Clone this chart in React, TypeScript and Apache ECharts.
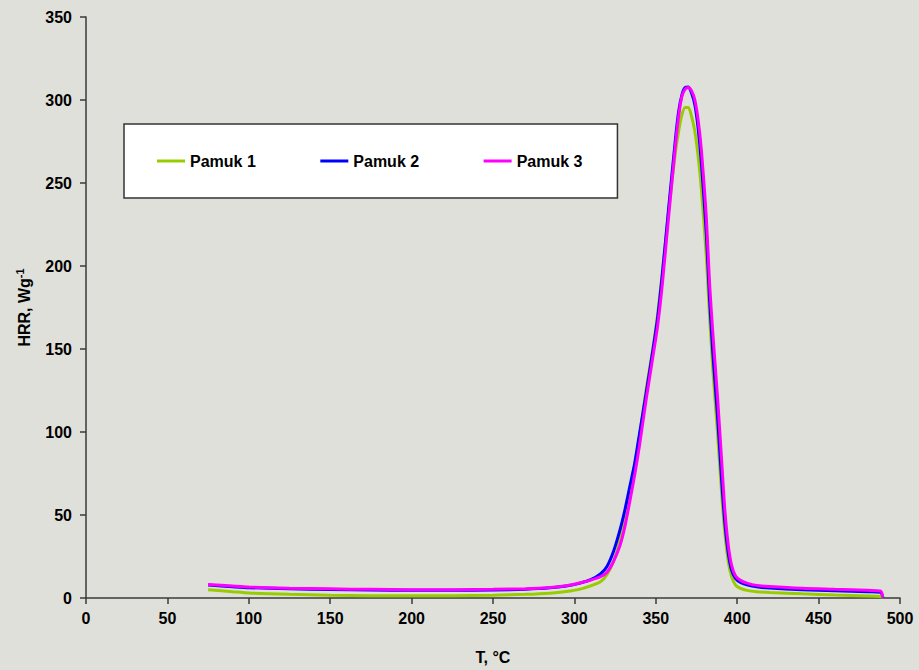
import React, { useEffect, useRef } from 'react';
import * as echarts from 'echarts';

const T = [75, 90, 100, 125, 150, 175, 200, 225, 250, 270, 285, 295, 303, 310, 316, 320, 324, 328, 331, 334, 337, 340, 344, 348, 351, 354, 358, 362, 364, 366, 368, 370, 372, 374, 376, 378, 381, 383, 385, 388, 390.5, 392.5, 394.5, 396.5, 399, 402, 406, 412, 420, 440, 460, 480, 488, 489.5];

const pamuk1 = [5.0, 3.8, 3.0, 2.2, 1.7, 1.4, 1.3, 1.4, 1.7, 2.2, 2.9, 3.9, 5.2, 7.3, 9.8, 14, 22, 35, 49, 64, 80, 98, 125, 149, 170, 196, 234, 268, 281, 291, 295.5, 295.5, 290, 281, 266, 246, 206, 170, 138, 98, 62, 38, 22, 13, 7.8, 5.8, 4.6, 3.8, 3.3, 2.5, 1.8, 1.2, 0.9, 0.5];

const pamuk2 = [7.8, 6.8, 6.2, 5.5, 5.1, 4.8, 4.6, 4.6, 4.8, 5.3, 6.1, 7.2, 8.8, 11, 14.5, 19, 28, 41, 53, 67, 81, 99, 123, 148, 168, 195, 236, 276, 293, 303, 307.5, 307.8, 304, 297, 283, 262, 220, 180, 148, 108, 70, 44, 27, 17, 11.6, 9.4, 8.0, 6.7, 6.0, 5.0, 4.4, 3.8, 3.5, 0.3];

const pamuk3 = [8.2, 7.2, 6.6, 5.9, 5.5, 5.2, 5.0, 5.0, 5.2, 5.6, 6.3, 7.4, 9.0, 10.8, 12.8, 15.5, 22, 31.6, 43, 58, 74, 92, 119, 144, 163, 189, 231, 272, 290, 302, 306.5, 307.6, 305.5, 300, 288, 270, 230, 190, 160, 120, 82, 52, 32, 20, 13.2, 10.6, 9.0, 7.6, 6.9, 5.8, 5.2, 4.6, 4.2, 0.3];

const seriesNames = ['Pamuk 1', 'Pamuk 2', 'Pamuk 3'];
const seriesColors = ['#99cc00', '#0000ff', '#ff00ff'];
const seriesValues = [pamuk1, pamuk2, pamuk3];

const FONT = '"Liberation Sans", Arial, sans-serif';
const AXIS_COLOR = '#3a3a3a';

export default function App() {
  const ref = useRef<HTMLDivElement>(null);
  useEffect(() => {
    const chart = echarts.init(ref.current!, null, { renderer: 'svg' });
    chart.setOption({
      animation: false,
      backgroundColor: '#e0e0da',
      textStyle: { fontFamily: FONT },
      grid: { left: 86, right: 19, top: 17, bottom: 71, containLabel: false },
      legend: {
        data: seriesNames,
        left: 124,
        top: 124,
        orient: 'horizontal',
        padding: [29, 35, 29, 33],
        itemGap: 64.5,
        itemWidth: 28,
        itemHeight: 3,
        icon: 'rect',
        backgroundColor: '#ffffff',
        borderColor: '#333333',
        borderWidth: 1.5,
        borderRadius: 0,
        textStyle: { fontSize: 16, fontWeight: 'bold', color: '#000', fontFamily: FONT },
      },
      xAxis: {
        type: 'value',
        min: 0,
        max: 500,
        interval: 50,
        name: 'T, °C',
        nameLocation: 'middle',
        nameGap: 51,
        nameTextStyle: { fontSize: 16, fontWeight: 'bold', color: '#000', fontFamily: FONT },
        axisLine: { show: true, lineStyle: { color: AXIS_COLOR, width: 1.5 } },
        axisTick: { show: true, inside: false, length: 6, lineStyle: { color: AXIS_COLOR, width: 1.5 } },
        axisLabel: { fontSize: 16, fontWeight: 'bold', color: '#000', margin: 12, fontFamily: FONT },
        splitLine: { show: false },
      },
      yAxis: {
        type: 'value',
        min: 0,
        max: 350,
        interval: 50,
        name: 'HRR, Wg{sup|-1}',
        nameLocation: 'middle',
        nameGap: 52,
        nameRotate: 90,
        nameTextStyle: {
          fontSize: 16,
          fontWeight: 'bold',
          color: '#000',
          fontFamily: FONT,
          rich: {
            sup: { fontSize: 11, fontWeight: 'bold', color: '#000', verticalAlign: 'top', lineHeight: 20, fontFamily: FONT },
          },
        },
        axisLine: { show: true, lineStyle: { color: AXIS_COLOR, width: 1.5 } },
        axisTick: { show: true, inside: false, length: 6, lineStyle: { color: AXIS_COLOR, width: 1.5 } },
        axisLabel: { fontSize: 16, fontWeight: 'bold', color: '#000', margin: 14, fontFamily: FONT },
        splitLine: { show: false },
      },
      series: seriesNames.map((name, i) => ({
        name,
        type: 'line',
        data: T.map((t, j) => [t, seriesValues[i][j]]),
        showSymbol: false,
        symbol: 'none',
        smooth: 0.25,
        lineStyle: { color: seriesColors[i], width: 3 },
        itemStyle: { color: seriesColors[i] },
        z: 2 + i,
      })),
    });
    return () => chart.dispose();
  }, []);
  return <div ref={ref} style={{ position: 'fixed', left: 0, top: 0, width: 919, height: 670 }} />;
}
